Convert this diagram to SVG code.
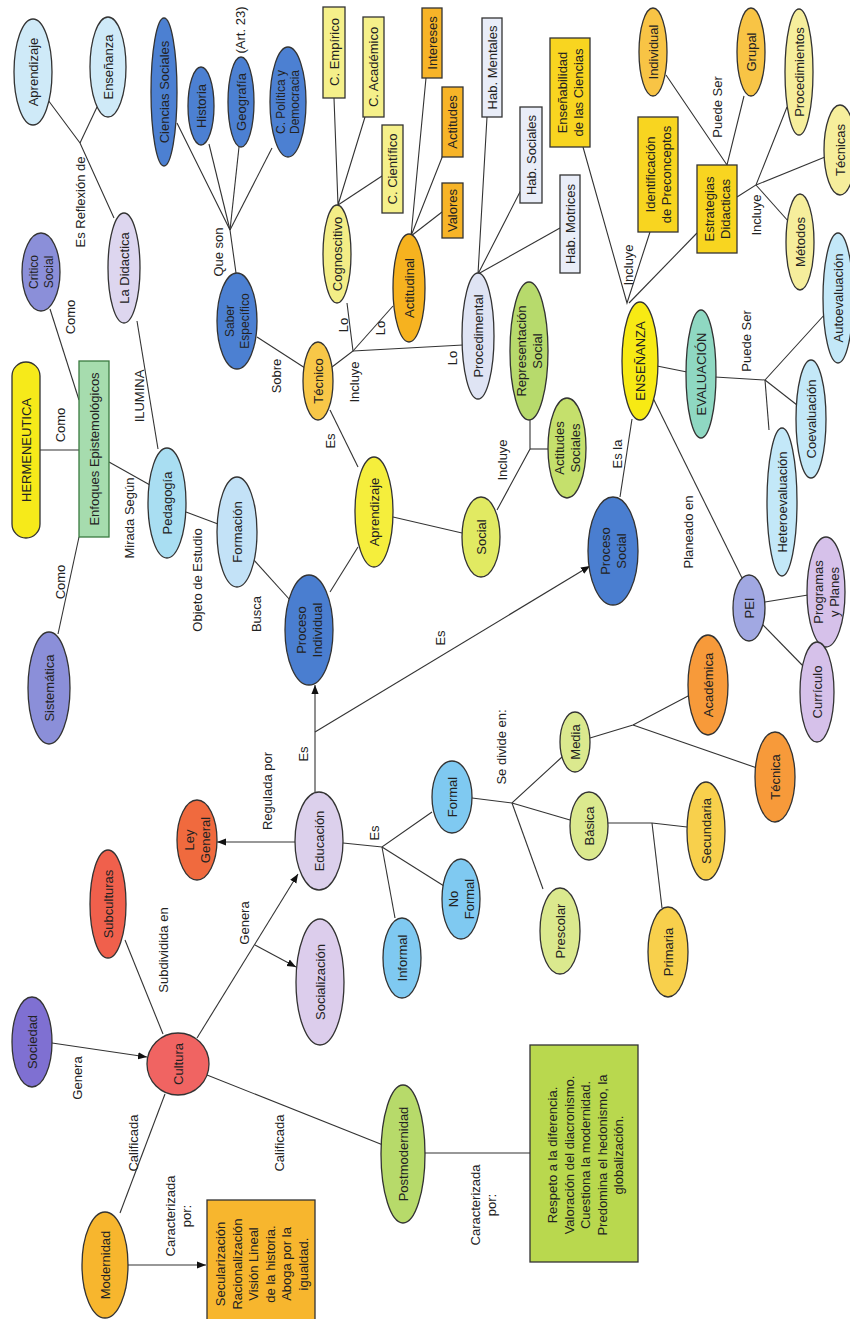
<svg xmlns="http://www.w3.org/2000/svg" width="850" height="1319" viewBox="0 0 850 1319">
<style>
text{font-family:"Liberation Sans",Arial,sans-serif;font-size:13px;text-anchor:middle;dominant-baseline:central;fill:#222}
.n{stroke:#333;stroke-width:1.3}
.c line,.c polyline{stroke:#333;stroke-width:1.1;fill:none}
.lb text{fill:#222}
.sm{font-size:12px}
</style>
<defs>
<marker id="ah" viewBox="0 0 10 10" refX="10" refY="5" markerWidth="9" markerHeight="9" orient="auto" markerUnits="userSpaceOnUse"><path d="M0,1 L10,5 L0,9 z" fill="#111"/></marker>
</defs>
<rect width="850" height="1319" fill="#fff"/>

<g class="c" id="connectors">
<polyline points="48,100 80,143 114,218"/>
<line x1="97" y1="107" x2="80" y2="143"/>
<line x1="50" y1="309" x2="79" y2="400"/>
<line x1="40" y1="450" x2="79" y2="450"/>
<line x1="79" y1="537" x2="58" y2="634"/>
<line x1="137" y1="321" x2="158" y2="449"/>
<line x1="109" y1="462" x2="150" y2="485"/>
<line x1="186" y1="512" x2="218" y2="524"/>
<line x1="253" y1="559" x2="290" y2="600"/>
<line x1="330" y1="592" x2="358" y2="547"/>
<line x1="358" y1="467" x2="330" y2="410"/>
<line x1="257" y1="337" x2="305" y2="368"/>
<polyline points="332,367 353,351 347,303"/>
<line x1="353" y1="351" x2="393" y2="306"/>
<line x1="353" y1="351" x2="463" y2="345"/>
<polyline points="236,273 230,230 177,123"/>
<line x1="230" y1="230" x2="209" y2="144"/>
<line x1="230" y1="230" x2="239" y2="147"/>
<line x1="230" y1="230" x2="272" y2="148"/>
<polyline points="334,98 338,205 365,117"/>
<line x1="338" y1="205" x2="382" y2="176"/>
<polyline points="426,78 411,236 443,155"/>
<line x1="411" y1="236" x2="442" y2="212"/>
<polyline points="487,117 478,274 521,190"/>
<line x1="478" y1="274" x2="560" y2="228"/>
<line x1="393" y1="517" x2="462" y2="533"/>
<polyline points="497,510 530,449 530,420"/>
<line x1="530" y1="449" x2="548" y2="449"/>
<polyline points="583,147 627,303 650,232"/>
<line x1="629" y1="303" x2="697" y2="233"/>
<polyline points="666,75 727,165 744,96"/>
<polyline points="737,197 756,185 787,107"/>
<line x1="756" y1="185" x2="825" y2="157"/>
<line x1="756" y1="185" x2="789" y2="222"/>
<line x1="657" y1="366" x2="687" y2="372"/>
<polyline points="715,377 765,380 826,313"/>
<line x1="765" y1="380" x2="797" y2="405"/>
<line x1="765" y1="380" x2="769" y2="430"/>
<line x1="632" y1="419" x2="620" y2="497"/>
<line x1="653" y1="398" x2="742" y2="578"/>
<line x1="765" y1="602" x2="808" y2="595"/>
<line x1="762" y1="624" x2="805" y2="668"/>
<line x1="315" y1="792" x2="315" y2="685" marker-end="url(#ah)"/>
<line x1="315" y1="732" x2="590" y2="566" marker-end="url(#ah)"/>
<line x1="295" y1="842" x2="217" y2="842" marker-end="url(#ah)"/>
<line x1="52" y1="1043" x2="147" y2="1057" marker-end="url(#ah)"/>
<line x1="163" y1="1034" x2="125" y2="940"/>
<line x1="197" y1="1038" x2="298" y2="874" marker-end="url(#ah)"/>
<line x1="255" y1="945" x2="296" y2="967" marker-end="url(#ah)"/>
<polyline points="343,843 382,847 432,812"/>
<line x1="382" y1="847" x2="444" y2="886"/>
<line x1="382" y1="847" x2="395" y2="918"/>
<polyline points="472,798 512,803 562,757"/>
<line x1="512" y1="803" x2="570" y2="820"/>
<line x1="512" y1="803" x2="543" y2="889"/>
<polyline points="590,738 633,725 690,695"/>
<line x1="633" y1="725" x2="757" y2="768"/>
<polyline points="608,823 652,823 687,827"/>
<line x1="652" y1="823" x2="662" y2="908"/>
<line x1="207" y1="1075" x2="383" y2="1145"/>
<line x1="165" y1="1094" x2="120" y2="1213"/>
<line x1="128" y1="1265" x2="206" y2="1265" marker-end="url(#ah)"/>
<line x1="425" y1="1153" x2="530" y2="1153"/>
</g>

<g class="lb" id="labels">
<text transform="translate(80,202) rotate(-90)">Es Reflexión de</text>
<text transform="translate(70,317) rotate(-90)">Como</text>
<text transform="translate(60,425) rotate(-90)">Como</text>
<text transform="translate(60,582) rotate(-90)">Como</text>
<text transform="translate(139,396) rotate(-90)">ILUMINA</text>
<text transform="translate(129,518) rotate(-90)">Mirada Según</text>
<text transform="translate(197,580) rotate(-90)">Objeto de Estudio</text>
<text transform="translate(256,614) rotate(-90)">Busca</text>
<text transform="translate(218,252) rotate(-90)">Que son</text>
<text transform="translate(240,30) rotate(-90)">(Art. 23)</text>
<text transform="translate(276,376) rotate(-90)">Sobre</text>
<text transform="translate(343,325) rotate(-90)">Lo</text>
<text transform="translate(380,328) rotate(-90)">Lo</text>
<text transform="translate(452,358) rotate(-90)">Lo</text>
<text transform="translate(354,382) rotate(-90)">Incluye</text>
<text transform="translate(330,441) rotate(-90)">Es</text>
<text transform="translate(502,460) rotate(-90)">Incluye</text>
<text transform="translate(628,265) rotate(-90)">Incluye</text>
<text transform="translate(717,107) rotate(-90)">Puede Ser</text>
<text transform="translate(756,215) rotate(-90)">Incluye</text>
<text transform="translate(746,341) rotate(-90)">Puede Ser</text>
<text transform="translate(617,454) rotate(-90)">Es la</text>
<text transform="translate(688,532) rotate(-90)">Planeado en</text>
<text transform="translate(303,754) rotate(-90)">Es</text>
<text transform="translate(440,638) rotate(-90)">Es</text>
<text transform="translate(267,791) rotate(-90)">Regulada por</text>
<text transform="translate(374,833) rotate(-90)">Es</text>
<text transform="translate(501,747) rotate(-90)">Se divide en:</text>
<text transform="translate(244,923) rotate(-90)">Genera</text>
<text transform="translate(163,950) rotate(-90)">Subdividida en</text>
<text transform="translate(77,1078) rotate(-90)">Genera</text>
<text transform="translate(133,1143) rotate(-90)">Calificada</text>
<text transform="translate(279,1143) rotate(-90)">Calificada</text>
<text transform="translate(178,1216) rotate(-90)"><tspan x="0" dy="-0.62em">Caracterizada</tspan><tspan x="0" dy="1.25em">por:</tspan></text>
<text transform="translate(483,1205) rotate(-90)"><tspan x="0" dy="-0.62em">Caracterizada</tspan><tspan x="0" dy="1.25em">por:</tspan></text>
</g>

<g id="n-aprendizaje-top"><ellipse class="n" cx="33" cy="72" rx="19" ry="53" fill="#cfeaf8"/><text fill="#2b3f66" transform="translate(33,72) rotate(-90)">Aprendizaje</text></g>
<g id="n-ensenanza-top"><ellipse class="n" cx="108" cy="67" rx="18" ry="50" fill="#cfeaf8"/><text fill="#2b3f66" transform="translate(108,67) rotate(-90)">Enseñanza</text></g>
<g id="n-didactica"><ellipse class="n" cx="124" cy="268" rx="16" ry="55" fill="#ddd6ef"/><text fill="#2d2a6a" transform="translate(124,268) rotate(-90)">La Didactica</text></g>
<g id="n-critico"><ellipse class="n" cx="41" cy="272" rx="19" ry="39" fill="#8b8fd9"/><text class="sm" fill="#2a2a80" transform="translate(41,272) rotate(-90)"><tspan x="0" dy="-0.62em">Critico</tspan><tspan x="0" dy="1.25em">Social</tspan></text></g>
<g id="n-ciencias"><ellipse class="n" cx="164" cy="92" rx="13" ry="74" fill="#4c80d2"/><text fill="#1b2f78" transform="translate(164,92) rotate(-90)">Ciencias Sociales</text></g>
<g id="n-historia"><ellipse class="n" cx="201" cy="106" rx="13" ry="39" fill="#4c80d2"/><text fill="#1b2f78" transform="translate(201,106) rotate(-90)">Historia</text></g>
<g id="n-geografia"><ellipse class="n" cx="241" cy="102" rx="13" ry="45" fill="#4c80d2"/><text fill="#1b2f78" transform="translate(241,102) rotate(-90)">Geografía</text></g>
<g id="n-politica"><ellipse class="n" cx="288" cy="102" rx="18" ry="55" fill="#4c80d2"/><text class="sm" fill="#1b2f78" transform="translate(288,102) rotate(-90)"><tspan x="0" dy="-0.6em">C. Política y</tspan><tspan x="0" dy="1.2em">Democracia</tspan></text></g>
<g id="n-saber"><ellipse class="n" cx="237" cy="321" rx="20" ry="48" fill="#4c80d2"/><text class="sm" fill="#1b2f78" transform="translate(237,321) rotate(-90)"><tspan x="0" dy="-0.62em">Saber</tspan><tspan x="0" dy="1.25em">Específico</tspan></text></g>
<g id="n-cognoscitivo"><ellipse class="n" cx="337" cy="254" rx="14" ry="49" fill="#f3ed86"/><text transform="translate(337,254) rotate(-90)">Cognoscitivo</text></g>
<g id="n-empirico"><rect class="n" x="323" y="7" width="22" height="91" fill="#f5f08a"/><text transform="translate(334,52) rotate(-90)">C. Empírico</text></g>
<g id="n-academico"><rect class="n" x="363" y="17" width="21" height="100" fill="#f5f08a"/><text transform="translate(373.5,67) rotate(-90)">C. Académico</text></g>
<g id="n-cientifico"><rect class="n" x="382" y="125" width="21" height="88" fill="#f5f08a"/><text transform="translate(392.5,169) rotate(-90)">C. Científico</text></g>
<g id="n-actitudinal"><ellipse class="n" cx="409" cy="288" rx="16" ry="54" fill="#f6b21f"/><text transform="translate(409,288) rotate(-90)">Actitudinal</text></g>
<g id="n-intereses"><rect class="n" x="422" y="8" width="20" height="70" fill="#f7b428"/><text transform="translate(432,43) rotate(-90)">Intereses</text></g>
<g id="n-actitudes"><rect class="n" x="442" y="87" width="21" height="70" fill="#f7b428"/><text transform="translate(452.5,122) rotate(-90)">Actitudes</text></g>
<g id="n-valores"><rect class="n" x="442" y="183" width="21" height="55" fill="#f7b428"/><text transform="translate(452.5,210.5) rotate(-90)">Valores</text></g>
<g id="n-tecnico"><ellipse class="n" cx="318" cy="381" rx="15" ry="39" fill="#f8c748"/><text transform="translate(318,381) rotate(-90)">Técnico</text></g>
<g id="n-procedimental"><ellipse class="n" cx="478" cy="336" rx="16" ry="63" fill="#dfe4f4"/><text fill="#2a2f55" transform="translate(478,336) rotate(-90)">Procedimental</text></g>
<g id="n-habmentales"><rect class="n" x="482" y="18" width="20" height="99" fill="#e9edf8"/><text fill="#2a2f55" transform="translate(492,67.5) rotate(-90)">Hab. Mentales</text></g>
<g id="n-habsociales"><rect class="n" x="520" y="107" width="22" height="96" fill="#e9edf8"/><text fill="#2a2f55" transform="translate(531,155) rotate(-90)">Hab. Sociales</text></g>
<g id="n-habmotrices"><rect class="n" x="560" y="175" width="20" height="98" fill="#e9edf8"/><text fill="#2a2f55" transform="translate(570,224) rotate(-90)">Hab. Motrices</text></g>
<g id="n-ensenabilidad"><rect class="n" x="550" y="38" width="40" height="109" fill="#f8d520"/><text transform="translate(570,92.5) rotate(-90)"><tspan x="0" dy="-0.62em">Enseñabilidad</tspan><tspan x="0" dy="1.25em">de las Ciencias</tspan></text></g>
<g id="n-identificacion"><rect class="n" x="638" y="117" width="40" height="115" fill="#f8d520"/><text transform="translate(658,174.5) rotate(-90)"><tspan x="0" dy="-0.62em">Identificación</tspan><tspan x="0" dy="1.25em">de Preconceptos</tspan></text></g>
<g id="n-estrategias"><rect class="n" x="697" y="165" width="40" height="88" fill="#f8d520"/><text transform="translate(717,209) rotate(-90)"><tspan x="0" dy="-0.62em">Estrategias</tspan><tspan x="0" dy="1.25em">Didacticas</tspan></text></g>
<g id="n-individual"><ellipse class="n" cx="653" cy="52" rx="14" ry="44" fill="#f8c445"/><text transform="translate(653,52) rotate(-90)">Individual</text></g>
<g id="n-grupal"><ellipse class="n" cx="751" cy="52" rx="14" ry="44" fill="#f8c445"/><text transform="translate(751,52) rotate(-90)">Grupal</text></g>
<g id="n-procedimientos"><ellipse class="n" cx="799" cy="72" rx="14" ry="63" fill="#f6ee9c"/><text transform="translate(799,72) rotate(-90)">Procedimientos</text></g>
<g id="n-tecnicas"><ellipse class="n" cx="840" cy="150" rx="16" ry="45" fill="#f6ee9c"/><text transform="translate(840,150) rotate(-90)">Técnicas</text></g>
<g id="n-metodos"><ellipse class="n" cx="800" cy="242" rx="14" ry="48" fill="#f6ee9c"/><text transform="translate(800,242) rotate(-90)">Métodos</text></g>
<g id="n-ensenanza"><ellipse class="n" cx="640" cy="361" rx="18" ry="59" fill="#f7ea14"/><text transform="translate(640,361) rotate(-90)">ENSEÑANZA</text></g>
<g id="n-evaluacion"><ellipse class="n" cx="701" cy="374" rx="15" ry="64" fill="#8fd8c2"/><text fill="#1c5f50" transform="translate(701,374) rotate(-90)">EVALUACIÓN</text></g>
<g id="n-auto"><ellipse class="n" cx="838" cy="298" rx="15" ry="65" fill="#c3e8f8"/><text fill="#1d4d6a" transform="translate(838,298) rotate(-90)">Autoevaluación</text></g>
<g id="n-co"><ellipse class="n" cx="811" cy="419" rx="15" ry="59" fill="#c3e8f8"/><text fill="#1d4d6a" transform="translate(811,419) rotate(-90)">Coevaluación</text></g>
<g id="n-hetero"><ellipse class="n" cx="782" cy="502" rx="15" ry="74" fill="#c3e8f8"/><text fill="#1d4d6a" transform="translate(782,502) rotate(-90)">Heteroevaluación</text></g>
<g id="n-procesosocial"><ellipse class="n" cx="613" cy="551" rx="25" ry="54" fill="#4a7ed0"/><text fill="#1e2d80" transform="translate(613,551) rotate(-90)"><tspan x="0" dy="-0.62em">Proceso</tspan><tspan x="0" dy="1.25em">Social</tspan></text></g>
<g id="n-pei"><ellipse class="n" cx="749" cy="608" rx="16" ry="33" fill="#a1a8e2"/><text fill="#2a2a80" transform="translate(749,608) rotate(-90)">PEI</text></g>
<g id="n-programas"><ellipse class="n" cx="826" cy="592" rx="19" ry="55" fill="#d6c1ea"/><text fill="#5a2a8a" transform="translate(826,592) rotate(-90)"><tspan x="0" dy="-0.62em">Programas</tspan><tspan x="0" dy="1.25em">y Planes</tspan></text></g>
<g id="n-curriculo"><ellipse class="n" cx="817" cy="692" rx="17" ry="50" fill="#d6c1ea"/><text fill="#5a2a8a" transform="translate(817,692) rotate(-90)">Currículo</text></g>

<g id="n-hermeneutica"><rect class="n" x="12" y="362" width="28" height="176" rx="14" fill="#f6ea1a"/><text transform="translate(26,450) rotate(-90)">HERMENEUTICA</text></g>
<g id="n-enfoques"><rect x="79" y="361" width="30" height="176" fill="#a6dcae" stroke="#3a7a40" stroke-width="1.3"/><text fill="#1f7a30" transform="translate(94,449) rotate(-90)">Enfoques Epistemológicos</text></g>
<g id="n-sistematica"><ellipse class="n" cx="49" cy="688" rx="21" ry="56" fill="#8b8fd9"/><text fill="#2a2a80" transform="translate(49,688) rotate(-90)">Sistemática</text></g>
<g id="n-pedagogia"><ellipse class="n" cx="167" cy="503" rx="19" ry="55" fill="#a9def2"/><text fill="#1d4d6a" transform="translate(167,503) rotate(-90)">Pedagogía</text></g>
<g id="n-formacion"><ellipse class="n" cx="237" cy="532" rx="20" ry="55" fill="#c3e2f7"/><text fill="#1d4d6a" transform="translate(237,532) rotate(-90)">Formación</text></g>
<g id="n-procesoind"><ellipse class="n" cx="309" cy="630" rx="24" ry="55" fill="#4a7ed0"/><text fill="#1e2d80" transform="translate(309,630) rotate(-90)"><tspan x="0" dy="-0.62em">Proceso</tspan><tspan x="0" dy="1.25em">Individual</tspan></text></g>
<g id="n-aprendizaje"><ellipse class="n" cx="374" cy="512" rx="19" ry="55" fill="#f5ee3c"/><text transform="translate(374,512) rotate(-90)">Aprendizaje</text></g>
<g id="n-social"><ellipse class="n" cx="481" cy="537" rx="19" ry="40" fill="#e1ea62"/><text transform="translate(481,537) rotate(-90)">Social</text></g>
<g id="n-representacion"><ellipse class="n" cx="529" cy="351" rx="19" ry="69" fill="#b7da6c"/><text transform="translate(529,351) rotate(-90)"><tspan x="0" dy="-0.62em">Representación</tspan><tspan x="0" dy="1.25em">Social</tspan></text></g>
<g id="n-actsociales"><ellipse class="n" cx="567" cy="448" rx="19" ry="50" fill="#c5e06c"/><text transform="translate(567,448) rotate(-90)"><tspan x="0" dy="-0.62em">Actitudes</tspan><tspan x="0" dy="1.25em">Sociales</tspan></text></g>

<g id="n-educacion"><ellipse class="n" cx="319" cy="841" rx="24" ry="49" fill="#dcd0ec"/><text fill="#3a2a7a" transform="translate(319,841) rotate(-90)">Educación</text></g>
<g id="n-ley"><ellipse class="n" cx="197" cy="840" rx="20" ry="40" fill="#f06a3e"/><text fill="#6a1a10" transform="translate(197,840) rotate(-90)"><tspan x="0" dy="-0.62em">Ley</tspan><tspan x="0" dy="1.25em">General</tspan></text></g>
<g id="n-subculturas"><ellipse class="n" cx="108" cy="904" rx="18" ry="54" fill="#f0604c"/><text fill="#5a1010" transform="translate(108,904) rotate(-90)">Subculturas</text></g>
<g id="n-socializacion"><ellipse class="n" cx="320" cy="982" rx="24" ry="63" fill="#dccdec"/><text fill="#3a2a7a" transform="translate(320,982) rotate(-90)">Socialización</text></g>
<g id="n-cultura"><circle class="n" cx="178" cy="1064" r="31" fill="#f06462"/><text fill="#5a1010" transform="translate(178,1064) rotate(-90)">Cultura</text></g>
<g id="n-sociedad"><ellipse class="n" cx="32" cy="1042" rx="20" ry="45" fill="#7f70d2"/><text fill="#2a1f80" transform="translate(32,1042) rotate(-90)">Sociedad</text></g>
<g id="n-informal"><ellipse class="n" cx="402" cy="958" rx="19" ry="40" fill="#7fc9f1"/><text fill="#1d3d80" transform="translate(402,958) rotate(-90)">Informal</text></g>
<g id="n-formal"><ellipse class="n" cx="452" cy="797" rx="20" ry="36" fill="#7fc9f1"/><text fill="#1d3d80" transform="translate(452,797) rotate(-90)">Formal</text></g>
<g id="n-noformal"><ellipse class="n" cx="461" cy="899" rx="19" ry="40" fill="#7fc9f1"/><text fill="#1d3d80" transform="translate(461,899) rotate(-90)"><tspan x="0" dy="-0.62em">No</tspan><tspan x="0" dy="1.25em">Formal</tspan></text></g>
<g id="n-media"><ellipse class="n" cx="575" cy="742" rx="15" ry="30" fill="#dbe98e"/><text transform="translate(575,742) rotate(-90)">Media</text></g>
<g id="n-basica"><ellipse class="n" cx="589" cy="826" rx="19" ry="34" fill="#dbe98e"/><text transform="translate(589,826) rotate(-90)">Básica</text></g>
<g id="n-prescolar"><ellipse class="n" cx="560" cy="931" rx="20" ry="43" fill="#dbe98e"/><text transform="translate(560,931) rotate(-90)">Prescolar</text></g>
<g id="n-academica"><ellipse class="n" cx="708" cy="685" rx="20" ry="50" fill="#f79a3a"/><text transform="translate(708,685) rotate(-90)">Académica</text></g>
<g id="n-tecnica"><ellipse class="n" cx="775" cy="777" rx="20" ry="45" fill="#f79a3a"/><text transform="translate(775,777) rotate(-90)">Técnica</text></g>
<g id="n-secundaria"><ellipse class="n" cx="706" cy="831" rx="19" ry="49" fill="#f8d04c"/><text transform="translate(706,831) rotate(-90)">Secundaria</text></g>
<g id="n-primaria"><ellipse class="n" cx="668" cy="952" rx="20" ry="45" fill="#f8d04c"/><text transform="translate(668,952) rotate(-90)">Primaria</text></g>

<g id="n-postmodernidad"><ellipse class="n" cx="403" cy="1154" rx="22" ry="69" fill="#b7da6a"/><text transform="translate(403,1154) rotate(-90)">Postmodernidad</text></g>
<g id="n-modernidad"><ellipse class="n" cx="105" cy="1265" rx="23" ry="53" fill="#f7b62e"/><text transform="translate(105,1265) rotate(-90)">Modernidad</text></g>
<g id="n-modernidad-box"><rect class="n" x="207" y="1200" width="108" height="130" fill="#f7b62e"/><text transform="translate(261.5,1264) rotate(-90)"><tspan x="0" dy="-3.175em">Secularización</tspan><tspan x="0" dy="1.27em">Racionalización</tspan><tspan x="0" dy="1.27em">Visión Lineal</tspan><tspan x="0" dy="1.27em">de la historia.</tspan><tspan x="0" dy="1.27em">Aboga por la</tspan><tspan x="0" dy="1.27em">igualdad.</tspan></text></g>
<g id="n-postmodernidad-box"><rect class="n" x="530" y="1045" width="108" height="217" fill="#b9d84e"/><text transform="translate(585,1155) rotate(-90)"><tspan x="0" dy="-2.54em">Respeto a la diferencia.</tspan><tspan x="0" dy="1.27em">Valoración del diacronismo.</tspan><tspan x="0" dy="1.27em">Cuestiona la modernidad.</tspan><tspan x="0" dy="1.27em">Predomina el hedonismo, la</tspan><tspan x="0" dy="1.27em">globalización.</tspan></text></g>
</svg>
